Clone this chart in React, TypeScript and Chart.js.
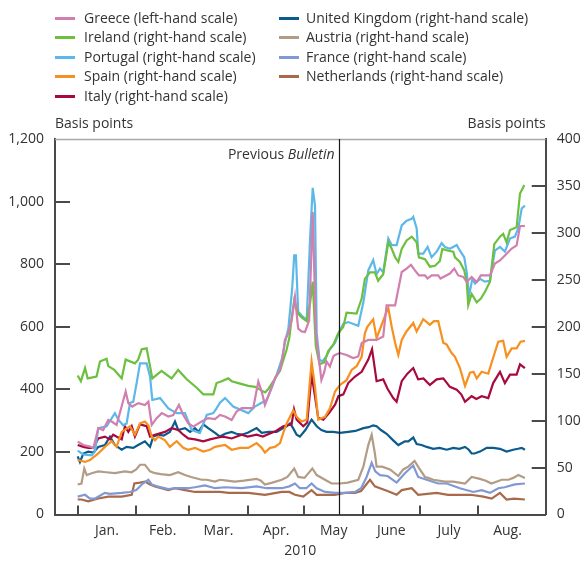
import React, { useEffect, useRef } from 'react';
import { Chart, registerables } from 'chart.js';

Chart.register(...registerables);

type Pt = [number, number];

// x = days since 1 January 2010; y = spread in basis points
const greece: Pt[] = [[0,233],[3,222],[6.5,217],[8.3,212],[10.9,276],[13.5,270],[16.2,302],[18,297],[20.6,286],[25.4,393],[26.8,356],[28.9,345],[32.1,356],[35.6,350],[37.4,361],[39.2,286],[41.8,308],[44.5,324],[48,313],[50.6,318],[53.6,350],[55.9,318],[58.5,292],[61.2,281],[65.6,297],[69.1,308],[72.7,305],[75.3,318],[78,313],[81.5,302],[84.1,329],[86.8,340],[90.3,340],[92.9,340],[95.6,425],[97.4,393],[99.1,350],[101.8,393],[104.4,436],[107.1,462],[108.8,516],[109.7,558],[111.5,580],[113.3,622],[115,695],[116.7,594],[118.5,585],[120.3,583],[122.5,620],[124.4,967],[126.1,578],[129,430],[130.5,455],[131.7,489],[133.5,473],[135.3,505],[136.2,510],[138.8,516],[142.3,510],[145.8,500],[148.5,505],[150.3,548],[153.8,558],[158.2,558],[161.7,569],[163.5,668],[168,668],[171.5,775],[174.1,786],[176.4,798],[178.5,780],[180.6,764],[183.8,764],[185.2,754],[187.3,764],[190.8,764],[192,754],[197,770],[199.3,786],[201.4,764],[204.1,759],[205.9,743],[208.5,759],[211.2,743],[213.4,764],[218.2,764],[220.8,802],[223.5,812],[226.1,828],[229.7,850],[232.3,860],[234.1,922],[236.7,922]];
const ireland: Pt[] = [[0,148],[1.7,142],[3.9,156],[5.3,145],[10,147],[11.8,163],[15.3,166],[16.2,158],[19.4,154],[23.3,145],[25.4,165],[30.3,161],[32,165],[33.9,176],[36.5,177],[38.3,158],[39.5,145],[44.4,153],[49.7,145],[53.2,154],[57.7,144],[63,135],[66.5,128],[71.8,128],[73.5,140],[76.2,142],[79.7,145],[81.5,142],[85,140],[90.3,137],[93.9,136],[97.4,132],[99.2,130],[101,134],[103.6,142],[105.4,148],[107.1,153],[108.9,165],[110.5,175],[112,188],[113.3,210],[114.6,228],[116.7,214],[118.5,210],[121.2,206],[123,225],[124.4,248],[126,180],[128,160],[130.5,162],[132.6,174],[135.3,181],[137.9,193],[140.6,200],[142.3,215],[147.6,214],[150.3,230],[152,251],[154.7,258],[157.3,258],[159,249],[161.7,256],[164.4,290],[166.2,283],[168,274],[169.7,269],[171.5,283],[174.1,292],[176.8,296],[179.4,290],[180.6,274],[183.8,272],[186.4,264],[189.1,265],[191.7,270],[193,283],[196.1,281],[198.8,280],[199.7,274],[202.3,269],[204.6,260],[205.9,248],[206.7,223],[208.5,235],[211.2,226],[213.4,230],[215.5,237],[218.2,248],[220.5,288],[223.5,296],[225.2,299],[227,290],[228.8,303],[232.3,306],[234.1,342],[236.4,351]];
const portugal: Pt[] = [[0,68],[3,64],[7.4,63],[9.2,67],[10.9,92],[15.3,94],[19.7,108],[21.5,101],[24.1,95],[25.9,97],[27.7,119],[29.4,120],[31.2,140],[33,161],[36.5,161],[38.3,147],[39.5,122],[43.6,124],[48,113],[52.4,108],[56.8,108],[60.3,90],[64.7,87],[68.3,106],[71.8,108],[73.5,113],[75.3,119],[78,124],[82.3,115],[90.3,108],[93.8,115],[97.4,119],[100,122],[102.7,135],[105.3,149],[108,165],[109.7,183],[111.5,198],[113.5,240],[114.6,276],[115.5,276],[116.7,216],[118.5,212],[121.2,207],[123,294],[124.4,348],[125.6,329],[126.5,193],[128,165],[129.5,163],[131.5,168],[133.5,176],[136.2,183],[138.8,196],[140.6,203],[143.2,205],[148.5,201],[151.2,226],[153.8,260],[156.4,271],[158.2,256],[160,262],[161.7,258],[164.4,294],[166.2,287],[168.8,287],[171.5,308],[174.1,313],[176.8,315],[177.6,317],[179.4,305],[180.3,278],[182.9,278],[185.2,285],[187.3,274],[190,280],[192.6,289],[194.4,285],[197,283],[200.6,287],[202.3,281],[204.6,274],[205.9,258],[207.1,233],[208.9,251],[210.3,246],[212.9,251],[215.5,248],[218.2,249],[220.8,281],[223.5,285],[226.1,280],[228.8,294],[231.4,296],[233.2,305],[235,326],[236.7,329]];
const spain: Pt[] = [[0,58],[3.9,56],[6.5,58],[10.9,65],[14.4,72],[18,78],[20.6,72],[23.3,88],[27.7,94],[30.3,85],[33,97],[35.6,99],[37.4,95],[39.2,83],[40.9,79],[42.7,83],[46.2,79],[48.8,72],[52.4,78],[55.9,71],[58.5,69],[62.1,71],[66.5,67],[70,69],[72.7,72],[78,74],[81.5,69],[85.9,71],[90.3,71],[94.7,76],[97.4,71],[99.1,66],[101.8,71],[104.4,72],[107.1,76],[108.8,87],[110.6,97],[114.1,111],[115.9,104],[118.5,99],[121.2,101],[123.8,163],[125.6,136],[127.3,101],[130.9,104],[133.5,113],[136.2,131],[138.8,138],[142.3,143],[145,154],[147.6,158],[150.3,168],[152,193],[153.3,200],[156.4,208],[158.2,188],[160.5,200],[163.5,216],[164.4,220],[166.2,200],[168,183],[169.7,170],[171.5,186],[174,195],[177.6,204],[179.4,195],[182.9,208],[186.4,202],[188.5,206],[190.8,206],[193.5,183],[195.3,181],[197.9,172],[199.7,168],[202.3,156],[205,137],[207.6,151],[209.5,152],[211.2,145],[213.8,152],[217.3,150],[219.9,167],[222.6,184],[225.2,185],[227,168],[229.7,177],[232.3,177],[234.4,184],[236.7,185]];
const italy: Pt[] = [[0,74],[3,72],[5.6,71],[8.3,71],[10.9,81],[14.4,83],[17.1,80],[18.8,85],[23.3,80],[25,94],[26.8,88],[28.6,94],[30.3,83],[33,96],[36.5,94],[38.3,83],[40.9,85],[46.2,88],[49.7,92],[53.2,90],[55.9,85],[58.5,81],[62.1,80],[66.5,78],[70,80],[74.4,82],[77,83],[81.5,81],[86.8,85],[90,83],[94.7,85],[98,83],[102.7,87],[105,89],[108.8,94],[113.2,96],[114.5,112],[115.9,101],[119.4,94],[121.5,98],[123.8,149],[125.6,126],[127.3,103],[130,101],[133,108],[136.2,117],[138,126],[140.6,128],[143.2,140],[146.8,147],[150.3,152],[153.8,165],[155.8,176],[158.2,142],[161.7,144],[164,134],[167,124],[168.8,120],[171.5,142],[174.5,150],[177.6,156],[180.2,144],[183,145],[186.4,138],[190,144],[193.5,145],[197,136],[200.6,133],[203,128],[205,120],[208.5,126],[211,123],[213.8,126],[217.3,124],[219.9,140],[223.5,152],[226.1,140],[228.8,149],[232.3,149],[234.1,160],[236.7,156]];
const unitedKingdom: Pt[] = [[0,62],[1.2,56],[3,65],[5.6,67],[8.3,66],[10.9,72],[14.4,74],[17.1,83],[19.7,74],[23.3,69],[25.9,72],[29.4,71],[32,74],[35.6,78],[38.3,72],[40,83],[42.7,85],[45.5,84],[48.8,88],[51.5,99],[53.2,90],[56.8,92],[59.5,88],[62.1,92],[64,88],[66.5,96],[69.1,92],[72.7,87],[75.3,83],[78,86],[81.5,88],[84,86],[86.8,85],[90,87],[94.7,92],[97.4,87],[101,88],[105.3,88],[108.8,92],[110.6,94],[112.4,97],[114,92],[115.9,85],[117.6,83],[120.5,90],[123.8,101],[126.5,94],[129,90],[131.7,88],[135.3,88],[138.8,87],[143.2,88],[147,89],[151.2,92],[154,93],[156.4,95],[158.2,94],[160.5,90],[163.5,86],[167,79],[169.7,74],[173.2,78],[175,78],[177.6,82],[179.4,75],[182,74],[184.7,72],[188.2,70],[191.5,71],[195.3,69],[198.8,71],[202,70],[205,72],[207,69],[208.5,65],[210,65],[212.9,67],[216.5,71],[220,71],[223.5,70],[227,67],[230.5,69],[233,70],[235,71],[236.7,69]];
const austria: Pt[] = [[0,32],[2,33],[3.5,49],[4.8,42],[7.4,44],[10.9,46],[15,45],[19.7,44],[25,46],[28.5,45],[31,48],[33,53],[35.6,53],[38.3,46],[40.9,44],[44,43],[48.8,42],[53.2,45],[56.8,42],[60,40],[65.6,37],[68.3,37],[72.7,35],[75.3,37],[79,36],[83.2,35],[88,36],[94.7,38],[97,36],[99.1,32],[103,34],[108,37],[111,40],[114.6,49],[116.7,40],[120,39],[124.2,49],[126.5,42],[130.9,37],[134.4,33],[138.8,33],[143,34],[148.5,37],[151.2,51],[153.8,74],[155.6,85],[157.3,65],[158.2,51],[161.1,51],[165.3,48],[169.7,41],[172.3,48],[175,51],[178.3,57],[180.5,50],[183.8,40],[185.5,39],[188.2,37],[194.4,35],[198.8,35],[205,33],[208.5,40],[212.9,38],[216,36],[219,33],[224.4,37],[228,37],[230.5,39],[233.2,42],[236.7,39]];
const france: Pt[] = [[0,19],[3.9,21],[6.5,17],[9.2,17],[14.4,23],[17.1,22],[23.3,23],[27.7,24],[31,26],[34.5,33],[37.4,37],[39.2,32],[42,30],[48,27],[52,28],[58.5,28],[62,29],[67.4,31],[72.7,28],[78,29],[86.8,28],[94.7,30],[100,28],[108,28],[112,30],[115,33],[117.6,28],[121,28],[123.8,33],[126.5,28],[130.9,24],[136.2,23],[141.5,23],[146.8,24],[150,28],[152.9,40],[155.6,55],[157.5,46],[160,42],[164,41],[168.8,34],[173.2,44],[175.9,49],[177.6,52],[180.2,40],[184.7,37],[190.8,33],[195.3,33],[202.3,28],[209.4,24],[213.8,26],[218.2,23],[222.6,28],[226,29],[231.4,32],[236.7,33]];
const netherlands: Pt[] = [[0,16],[2,16],[5.6,14],[10.9,17],[16.2,19],[23.3,19],[28.6,21],[30,33],[33,34],[35.6,35],[38.3,32],[40.9,30],[48,26],[51.5,28],[56.8,26],[62.1,24],[70,24],[75.3,24],[80,23],[90.3,23],[99.1,21],[108,24],[112,24],[115,21],[119.4,19],[123.8,26],[126.5,21],[131,21],[136,21],[141.5,23],[146.8,23],[150,25],[154.7,37],[157.3,30],[160,28],[164,25],[168.8,21],[171.5,26],[176.8,28],[180.2,21],[185,22],[190,23],[196,21],[203.2,21],[208,21],[214.7,19],[219.1,17],[223.5,23],[227,16],[231,17],[236.7,16]];

const seriesNames = [
  'Greece (left-hand scale)',
  'Ireland (right-hand scale)',
  'Portugal (right-hand scale)',
  'Spain (right-hand scale)',
  'Italy (right-hand scale)',
  'United Kingdom (right-hand scale)',
  'Austria (right-hand scale)',
  'France (right-hand scale)',
  'Netherlands (right-hand scale)',
];
const seriesColors = ['#d07fae', '#6dbf3f', '#5cb8e8', '#f7901e', '#a80a40', '#0b5b8c', '#b29c86', '#8098d4', '#a86a4a'];
const seriesAxes = ['y', 'y1', 'y1', 'y1', 'y1', 'y1', 'y1', 'y1', 'y1'];
const seriesData = [greece, ireland, portugal, spain, italy, unitedKingdom, austria, france, netherlands];

const monthLabels = ['Jan.', 'Feb.', 'Mar.', 'Apr.', 'May', 'June', 'July', 'Aug.'];
const monthStarts = [0, 31, 59, 90, 120, 151, 181, 212, 243];
const bulletinDay = 138.4;
const xMin = -12;
const xMax = 247.7;

const FONT = '"Open Sans", "DejaVu Sans", sans-serif';
const TEXT = '#333333';
const AXIS = '#4a4a4a';

const monthMids = monthLabels.map((_, i) => (monthStarts[i] + monthStarts[i + 1]) / 2);

const overlay = {
  id: 'overlay',
  afterDraw(chart: any) {
    const { ctx, chartArea: a, scales } = chart;
    const xs = scales.x;
    const ly = scales.y;
    const ry = scales.y1;
    ctx.save();
    ctx.strokeStyle = '#a8a8a8';
    ctx.lineWidth = 1.5;
    ctx.beginPath();
    ctx.moveTo(a.left, a.top + 0.5);
    ctx.lineTo(a.right, a.top + 0.5);
    ctx.stroke();

    ctx.strokeStyle = AXIS;
    ctx.lineWidth = 2;
    ly.ticks.forEach((t: any) => {
      if (t.value <= ly.min || t.value >= ly.max) return;
      const py = Math.round(ly.getPixelForValue(t.value));
      ctx.beginPath();
      ctx.moveTo(a.left, py);
      ctx.lineTo(a.left + 15, py);
      ctx.stroke();
    });
    ry.ticks.forEach((t: any) => {
      if (t.value <= ry.min || t.value >= ry.max) return;
      const py = Math.round(ry.getPixelForValue(t.value));
      ctx.beginPath();
      ctx.moveTo(a.right - 14, py);
      ctx.lineTo(a.right, py);
      ctx.stroke();
    });
    monthStarts.slice(0, monthLabels.length).forEach((d) => {
      const px = Math.round(xs.getPixelForValue(d));
      ctx.beginPath();
      ctx.moveTo(px, a.bottom);
      ctx.lineTo(px, a.bottom - 9);
      ctx.stroke();
    });

    const bx = Math.round(xs.getPixelForValue(bulletinDay)) + 0.5;
    ctx.strokeStyle = '#1a1a1a';
    ctx.lineWidth = 1.2;
    ctx.beginPath();
    ctx.moveTo(bx, a.top);
    ctx.lineTo(bx, a.bottom);
    ctx.stroke();

    ctx.fillStyle = TEXT;
    ctx.textBaseline = 'middle';
    ctx.font = `14px ${FONT}`;
    ctx.textAlign = 'left';
    ctx.fillText('Basis points', a.left, a.top - 15);
    ctx.textAlign = 'right';
    ctx.fillText('Basis points', a.right, a.top - 15);
    ctx.textAlign = 'center';
    ctx.fillText('2010', (a.left + a.right) / 2, a.bottom + 37);

    ctx.font = `italic 14px ${FONT}`;
    const wB = ctx.measureText('Bulletin').width;
    ctx.textAlign = 'right';
    ctx.fillText('Bulletin', bx - 5, a.top + 16);
    ctx.font = `14px ${FONT}`;
    ctx.fillText('Previous ', bx - 5 - wB, a.top + 16);
    ctx.restore();
  },
};

export default function App() {
  const ref = useRef<HTMLCanvasElement | null>(null);

  useEffect(() => {
    if (!ref.current) return;
    const font = { family: FONT, size: 14 };
    const chart = new Chart(ref.current, {
      type: 'line',
      data: {
        datasets: seriesData.map((pts, i) => ({
          label: seriesNames[i],
          data: pts.map(([d, v]) => ({ x: d, y: v })),
          borderColor: seriesColors[i],
          backgroundColor: seriesColors[i],
          yAxisID: seriesAxes[i],
          borderWidth: 2.2,
          pointRadius: 0,
          tension: 0,
          fill: false,
        })),
      },
      options: {
        responsive: false,
        animation: false,
        layout: { padding: { top: 139, left: 0, right: 0, bottom: 0 } },
        plugins: { legend: { display: false }, tooltip: { enabled: false } },
        scales: {
          x: {
            type: 'linear',
            min: xMin,
            max: xMax,
            grid: { display: false, drawTicks: false },
            border: { display: true, color: AXIS, width: 2 },
            afterBuildTicks: (s: any) => {
              s.ticks = monthMids.map((v) => ({ value: v }));
            },
            afterFit: (s: any) => {
              s.height = 46.5;
            },
            ticks: {
              autoSkip: false,
              maxRotation: 0,
              minRotation: 0,
              padding: 8,
              font,
              color: TEXT,
              callback: (_v: any, i: number) => monthLabels[i],
            },
          },
          y: {
            position: 'left',
            min: 0,
            max: 1200,
            grid: { display: false, drawTicks: false },
            border: { display: true, color: AXIS, width: 2 },
            afterFit: (s: any) => {
              s.width = 55;
            },
            ticks: {
              stepSize: 200,
              padding: 11,
              font,
              color: TEXT,
              callback: (v: any) => Number(v).toLocaleString('en-US'),
            },
          },
          y1: {
            position: 'right',
            min: 0,
            max: 400,
            grid: { display: false, drawTicks: false },
            border: { display: true, color: AXIS, width: 2 },
            afterFit: (s: any) => {
              s.width = 37.3;
            },
            ticks: { stepSize: 50, padding: 11, font, color: TEXT },
          },
        },
      } as any,
      plugins: [overlay],
    });
    return () => chart.destroy();
  }, []);

  return (
    <div style={{ position: 'absolute', left: 0, top: 0, width: 583, height: 561, background: '#ffffff' }}>
      <canvas ref={ref} width={583} height={561} style={{ position: 'absolute', left: 0, top: 0 }} />
      {seriesNames.map((name, i) => {
        const col = i < 5 ? 0 : 1;
        const row = i < 5 ? i : i - 5;
        const cy = 18.3 + row * 19.5;
        const lineX = col === 0 ? 55 : 279;
        const textX = col === 0 ? 84 : 306;
        return (
          <React.Fragment key={name}>
            <div style={{ position: 'absolute', left: lineX, top: cy - 1.5, width: 20, height: 3, background: seriesColors[i] }} />
            <div
              style={{
                position: 'absolute',
                left: textX,
                top: cy - 10.4,
                height: 20,
                lineHeight: '20px',
                fontFamily: FONT,
                fontSize: 14,
                color: TEXT,
                whiteSpace: 'nowrap',
              }}
            >
              {name}
            </div>
          </React.Fragment>
        );
      })}
    </div>
  );
}
